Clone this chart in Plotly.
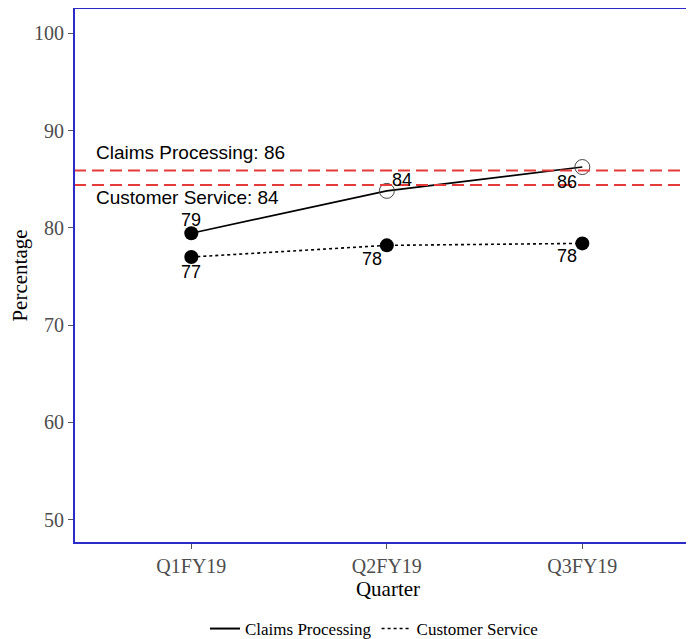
import plotly.graph_objects as go

quarters = ["Q1FY19", "Q2FY19", "Q3FY19"]
claims = [79.45, 83.8, 86.25]
customer = [77.0, 78.2, 78.4]
claims_filled = [True, False, False]
ref_names = ["Claims Processing", "Customer Service"]
ref_values = [85.9, 84.4]

xi = [0, 1, 2]
fig = go.Figure()

fig.add_trace(go.Scatter(x=xi, y=customer, mode="lines", line=dict(color="black", width=1.6, dash="dot"),
                         showlegend=False, hoverinfo="skip"))
fig.add_trace(go.Scatter(x=xi, y=claims, mode="lines", line=dict(color="black", width=1.6),
                         showlegend=False, hoverinfo="skip"))
fig.add_trace(go.Scatter(x=xi, y=customer, mode="markers",
                         marker=dict(color="black", size=14, symbol="circle"), showlegend=False))
fx = [x for x, f in zip(xi, claims_filled) if f]
fy = [y for y, f in zip(claims, claims_filled) if f]
ox = [x for x, f in zip(xi, claims_filled) if not f]
oy = [y for y, f in zip(claims, claims_filled) if not f]
fig.add_trace(go.Scatter(x=fx, y=fy, mode="markers",
                         marker=dict(color="black", size=14, symbol="circle"), showlegend=False))
fig.add_trace(go.Scatter(x=ox, y=oy, mode="markers",
                         marker=dict(color="#444444", size=15, symbol="circle-open", line=dict(width=1)),
                         showlegend=False))

# legend entries
fig.add_trace(go.Scatter(x=[None], y=[None], mode="lines", name=ref_names[0],
                         line=dict(color="black", width=2)))
fig.add_trace(go.Scatter(x=[None], y=[None], mode="lines", name=ref_names[1],
                         line=dict(color="black", width=1.6, dash="dot")))

for v in ref_values:
    fig.add_hline(y=v, line=dict(color="#e53a3a", width=2, dash="12px,6px"))

# panel border: top, left, bottom (no right side)
border = dict(color="#2b2bc8", width=2)
fig.add_shape(type="line", xref="paper", yref="paper", x0=0, x1=1.02, y0=1, y1=1, line=border)
fig.add_shape(type="line", xref="paper", yref="paper", x0=0, x1=0, y0=-0.002, y1=1.002, line=border)
fig.add_shape(type="line", xref="paper", yref="paper", x0=0, x1=1.02, y0=0, y1=0, line=border)

sans = "Liberation Sans, Arial, sans-serif"
fig.add_annotation(x=20 / 628, xref="paper", y=ref_values[0], yref="y", yshift=17.5,
                   text=f"{ref_names[0]}: {round(ref_values[0])}", showarrow=False,
                   xanchor="left", yanchor="middle", font=dict(family=sans, size=19, color="black"))
fig.add_annotation(x=20 / 628, xref="paper", y=ref_values[1], yref="y", yshift=-12,
                   text=f"{ref_names[1]}: {round(ref_values[1])}", showarrow=False,
                   xanchor="left", yanchor="middle", font=dict(family=sans, size=19, color="black"))

claims_shift = [(0, 13), (15, 11), (-15, -15)]
cust_shift = [(0, -15), (-15, -14), (-15, -13)]
for i in range(3):
    fig.add_annotation(x=xi[i], y=claims[i], text=str(round(claims[i])), showarrow=False,
                       xshift=claims_shift[i][0], yshift=claims_shift[i][1],
                       font=dict(family=sans, size=18, color="black"))
    fig.add_annotation(x=xi[i], y=customer[i], text=str(round(customer[i])), showarrow=False,
                       xshift=cust_shift[i][0], yshift=cust_shift[i][1],
                       font=dict(family=sans, size=18, color="black"))

serif = "Liberation Serif, Times New Roman, serif"
fig.update_layout(
    width=694, height=639,
    margin=dict(l=66, r=0, t=0, b=104),
    plot_bgcolor="white", paper_bgcolor="white",
    font=dict(family=serif, color="black"),
    xaxis=dict(range=[-0.6, 2.612], tickmode="array", tickvals=xi, ticktext=quarters,
               showgrid=False, zeroline=False, showline=False,
               ticks="outside", ticklen=5, tickcolor="#555555",
               tickfont=dict(family=serif, size=20, color="#4d4d4d"),
               title=dict(text="Quarter", font=dict(family=serif, size=21, color="black"), standoff=0)),
    yaxis=dict(range=[47.6, 102.6], tickvals=[50, 60, 70, 80, 90, 100],
               showgrid=False, zeroline=False, showline=False,
               ticks="outside", ticklen=5, tickcolor="#555555",
               tickfont=dict(family=serif, size=20, color="#4d4d4d"),
               title=dict(text="Percentage", font=dict(family=serif, size=21, color="black"), standoff=10)),
    legend=dict(orientation="h", x=0.5 - 14 / 628, xanchor="center", y=-86 / 535, yanchor="middle",
                font=dict(family=serif, size=17, color="black"), itemwidth=30),
)

fig.write_html("out.html")
